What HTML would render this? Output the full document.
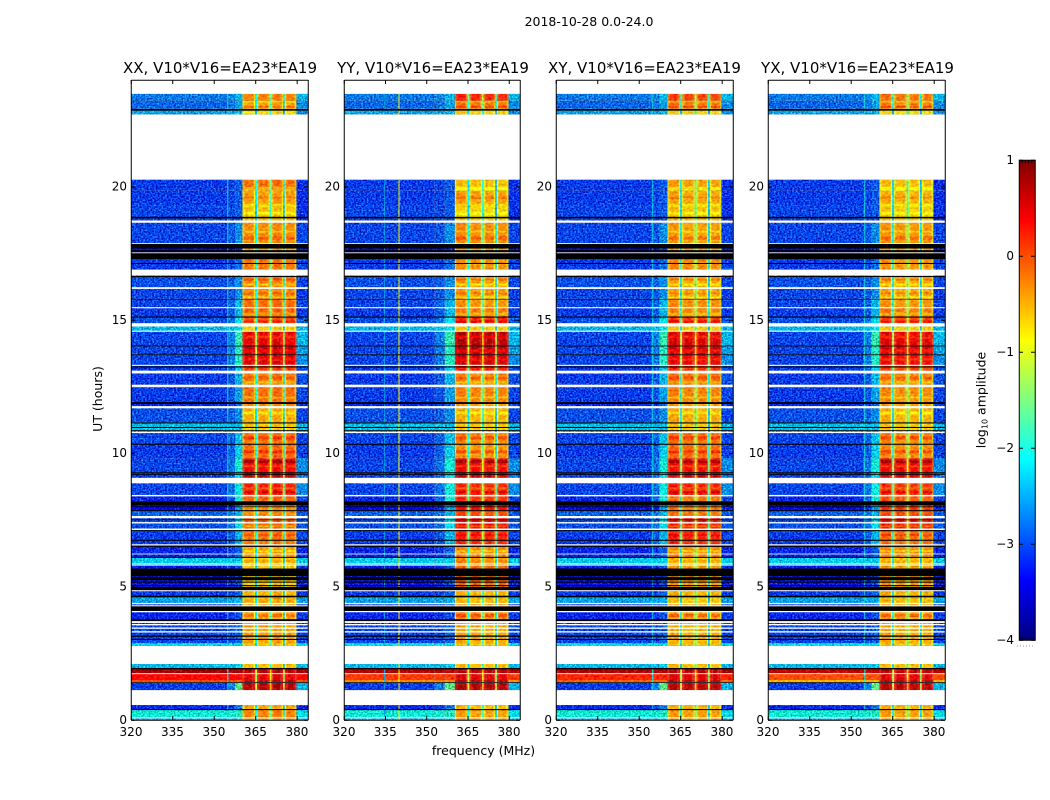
<!DOCTYPE html>
<html lang="en">
<head>
<meta charset="utf-8">
<title>2018-10-28 0.0-24.0 dynamic spectra</title>
<style>
html,body{margin:0;padding:0;background:#fff;}
svg{display:block;font-family:"DejaVu Sans","Liberation Sans",sans-serif;fill:#000;}
text{font-size:12px;}
.title{font-size:15px;text-anchor:middle;}
.big{font-size:12.5px;}
</style>
</head>
<body>
<svg id="figure" xmlns="http://www.w3.org/2000/svg" width="1050" height="800" viewBox="0 0 1050 800">
  <defs>
    <filter id="speckle" x="0" y="0" width="1050" height="800" filterUnits="userSpaceOnUse" color-interpolation-filters="sRGB">
      <feTurbulence type="fractalNoise" baseFrequency="0.55 0.6" numOctaves="2" seed="4" result="n"/>
      <feColorMatrix in="n" type="matrix" values="1 0 0 0 0 1 0 0 0 0 1 0 0 0 0 0 0 0 0 1" result="g"/>
      <feComposite in="SourceGraphic" in2="g" operator="arithmetic" k1="0" k2="1" k3="1.1" k4="-0.62" result="m"/>
      <feComposite in="m" in2="SourceGraphic" operator="in"/>
    </filter>
    <filter id="grain" x="0" y="0" width="1050" height="800" filterUnits="userSpaceOnUse" color-interpolation-filters="sRGB">
      <feTurbulence type="fractalNoise" baseFrequency="0.35 0.5" numOctaves="1" seed="9" result="n"/>
      <feColorMatrix in="n" type="matrix" values="1 0 0 0 0 1 0 0 0 0 1 0 0 0 0 0 0 0 0 1" result="g"/>
      <feComposite in="SourceGraphic" in2="g" operator="arithmetic" k1="0" k2="1" k3="0.5" k4="-0.25" result="m"/>
      <feComposite in="m" in2="SourceGraphic" operator="in"/>
    </filter>
  </defs>
  <rect x="0" y="0" width="1050" height="800" fill="#fff"/>
  <text class="big" x="589" y="26" text-anchor="middle">2018-10-28 0.0-24.0</text>

  <text class="title" x="220" y="73">XX, V10*V16=EA23*EA19</text>
  <text class="title" x="433" y="73">YY, V10*V16=EA23*EA19</text>
  <text class="title" x="644.5" y="73">XY, V10*V16=EA23*EA19</text>
  <text class="title" x="857.5" y="73">YX, V10*V16=EA23*EA19</text>

  <g id="panel-0"></g>
  <g id="panel-1"></g>
  <g id="panel-2"></g>
  <g id="panel-3"></g>

  <text class="big" transform="translate(102 399) rotate(-90)" text-anchor="middle">UT (hours)</text>
  <text class="big" x="483.5" y="755" text-anchor="middle">frequency (MHz)</text>

  <g id="colorbar"></g>
  <text class="big" transform="translate(985.5 400) rotate(-90)" text-anchor="middle">log<tspan font-size="8" dy="2">10</tspan><tspan dy="-2"> amplitude</tspan></text>
</svg>

<script>
/* ---- axis data ---- */
const frequencyTicks = [320, 335, 350, 365, 380];
const utTicks = [0, 5, 10, 15, 20];
const colorbarTicks = [1, 0, -1, -2, -3, -4];
const colorbarTickLabels = ['1', '0', '\u22121', '\u22122', '\u22123', '\u22124'];

/* ---- passbands (MHz) ---- */
const bandLow = [360.3, 365.6, 370.8, 375.6];
const bandHigh = [364.9, 370.2, 375.0, 379.8];
const slitDrop = [-1.8, -1.3, -1.9];
const xxBandOffset = [-0.1, -0.1, -0.05, -0.1];
const yyBandOffset = [-0.05, -0.1, -0.1, -0.1];
const xyBandOffset = [-0.05, -0.1, -0.1, -0.1];
const yxBandOffset = [-0.05, -0.1, -0.1, -0.1];
const shoulderStart = [355, 353, 354.5, 354.5];
const xxLineFreq = [355];
const yyLineFreq = [340, 334.8];
const xyLineFreq = [355];
const yxLineFreq = [355];
const xxLineLevel = [-2.1];
const yyLineLevel = [-0.9, -2.5];
const xyLineLevel = [-2.1];
const yxLineLevel = [-2.0];

/* ---- time blocks: UT hours and log10 amplitude levels ---- */
const blockStart = [23.48,23.22,22.92,20.26,19.85,19.29,18.65,17.87,17.28,16.67,16.17,15.81,15.47,15.13,14.76,14.57,14.04,13.71,13.30,13.00,12.51,11.87,11.69,11.16,10.79,10.34,9.81,9.29,8.88,8.39,8.20,7.83,7.57,7.08,6.55,6.10,5.81,4.83,4.64,4.34,3.78,2.88,2.10,1.95,1.75,1.50,1.39,0.56,0.41,0.10];
const blockEnd = [23.22,22.92,22.71,19.85,19.29,18.73,17.87,17.28,16.74,16.22,15.81,15.47,15.13,14.87,14.57,14.04,13.71,13.30,13.07,12.57,11.87,11.69,11.16,10.79,10.34,9.81,9.29,9.08,8.43,8.20,7.83,7.64,7.08,6.55,6.10,5.81,4.83,4.64,4.34,3.78,2.88,2.78,1.95,1.75,1.50,1.42,1.12,0.41,0.10,0];
const backgroundLevel = [-2.7,-2.8,-2.5,-3,-3,-2.95,-2.95,-3.3,-3,-2.9,-2.95,-2.95,-3,-2.9,-2.4,-2.95,-2.95,-2.95,-3,-3,-3,-3.1,-2.9,-2.35,-2.95,-3,-2.95,-3,-2.95,-3.1,-3.3,-2.8,-2.9,-3,-3.1,-2.3,-3.2,-3,-2.5,-3.1,-2.95,-2.2,-2.4,0.8,0.3,-0.1,-3,-3.1,-2,-2.4];
const shoulderLevel = [-2.4,-2.5,-2.4,-2.85,-2.85,-2.85,-2.6,-3.1,-2.75,-2.6,-2.6,-2.4,-2.4,-2.2,-2.2,-1.8,-1.9,-1.9,-2.3,-2.4,-2.5,-2.8,-2.6,-2.35,-2.35,-2.3,-2.0,-2.2,-2.05,-2.0,-2.5,-2.4,-2.2,-2.4,-2.8,-2.3,-2.9,-2.8,-2.45,-2.9,-2.8,-2.2,-2.3,0.8,0.3,0.2,-1.6,-2.7,-1.9,-2.3];
const edgeLevel = [-2.4,-2.6,-2.6,-3.05,-3.05,-3.05,-2.95,-3.2,-2.95,-2.95,-3,-2.95,-3,-2.85,-2.4,-2.4,-2.5,-2.6,-2.9,-2.9,-2.95,-3,-2.95,-2.4,-2.95,-2.95,-2.6,-2.7,-2.6,-2.95,-3.1,-2.85,-2.85,-2.95,-3.1,-2.3,-3.1,-3,-2.5,-3,-2.95,-2.2,-2.4,0.8,0.3,-0.1,-2.4,-3.1,-2.2,-2.4];
const xxBandLevel = [-0.15,-0.3,-0.6,-0.05,-0.3,-0.45,-0.2,-0.3,-0.1,-0.15,-0.2,-0.05,0,0.1,-0.5,0.6,0.8,0.65,0.2,-0.15,-0.05,-0.2,-0.35,-0.5,-0.1,-0.05,0.5,0.85,0.35,0,-0.2,-0.2,0,-0.1,-0.3,-0.45,-0.5,-0.4,-0.35,-0.35,-0.3,-0.5,-0.45,0.85,0.6,0.8,0.85,-0.35,-0.15,-0.2];
const yyBandLevel = [0.3,-0.1,-0.55,-0.45,-0.3,-0.55,-0.2,-0.3,-0.25,-0.3,-0.3,-0.25,-0.1,0.3,-0.5,0.85,0.85,0.7,0.35,-0.2,-0.15,-0.3,-0.4,-0.5,-0.2,-0.25,0.5,0.8,0.3,0.25,0.45,0.1,0.45,0.3,-0.2,-0.25,0,-0.4,-0.45,-0.2,-0.35,-0.5,-0.45,0.85,0.6,0.8,0.85,-0.45,-0.3,-0.3];
const xyBandLevel = [0.15,-0.1,-0.55,-0.3,-0.35,-0.45,-0.3,-0.3,-0.2,-0.35,-0.35,-0.2,-0.15,0.2,-0.5,0.65,0.75,0.55,0.25,-0.1,-0.15,-0.3,-0.35,-0.5,-0.1,-0.05,0.45,0.7,0.35,-0.1,-0.1,-0.1,0.35,0.3,-0.2,-0.45,-0.25,-0.4,-0.5,-0.3,-0.4,-0.5,-0.45,0.85,0.6,0.8,0.8,-0.4,-0.3,-0.3];
const yxBandLevel = [-0.1,-0.15,-0.6,-0.45,-0.4,-0.5,-0.25,-0.3,-0.25,-0.35,-0.35,-0.25,-0.1,0.15,-0.5,0.6,0.7,0.5,0.15,-0.2,-0.2,-0.3,-0.4,-0.5,-0.2,-0.2,0.5,0.7,0.25,0.05,0.25,0.1,0.35,-0.05,-0.2,-0.45,-0.25,-0.4,-0.45,-0.3,-0.35,-0.5,-0.45,0.8,0.6,0.8,0.8,-0.4,-0.3,-0.3];

/* ---- flare rows: which blocks, and the broadband level in each polarisation ---- */
const flareBlocks = [43, 44, 45];
const xxFlareLevel = [0.85, 0.35, 0.0];
const yyFlareLevel = [0.75, 0.1, -0.3];
const xyFlareLevel = [0.8, 0.2, -0.1];
const yxFlareLevel = [0.7, 0.0, -0.5];

/* ---- horizontal stripes inside the passbands ---- */
const stripeStart = [23.22,23.03,20.0,19.63,19.36,19.06,18.35,18.13,16.55,16.37,16.03,15.88,15.28,14.98,14.42,13.90,13.56,12.88,12.70,12.13,11.57,10.64,10.11,9.74,9.55,8.73,8.58,7.30,6.97,6.37,5.99,3.97];
const stripeEnd = [23.15,22.96,19.85,19.55,19.25,18.95,18.28,18.01,16.48,16.29,15.96,15.81,15.17,14.91,14.31,13.78,13.48,12.77,12.62,12.06,11.46,10.52,10.0,9.63,9.48,8.65,8.50,7.23,6.89,6.29,5.92,3.86];
const stripeDelta = [-0.3,0.25,-0.35,0.2,-0.3,-0.3,-0.3,0.2,0.25,-0.35,0.2,-0.35,-0.3,0.3,-0.35,-0.35,-0.3,0.2,-0.3,-0.35,-0.3,0.3,0.3,0.4,-0.35,-0.3,0.3,-0.35,0.2,-0.3,0.1,0.25];

/* ---- flagged time ranges (UT hours) ---- */
const gapStart = [18.73,17.88,17.54,16.89,16.70,16.23,15.48,14.88,14.60,13.32,13.10,12.57,12.51,11.77,10.80,9.08,8.44,7.65,7.42,7.18,6.59,6.24,5.87,5.82,4.87,4.39,4.30,4.09,3.71,3.60,3.47,3.33,1.75,0.10];
const gapEnd = [18.65,17.85,17.50,16.73,16.67,16.17,15.44,14.76,14.56,13.28,13.00,12.54,12.48,11.69,10.76,8.88,8.39,7.57,7.37,7.12,6.54,6.21,5.84,5.79,4.83,4.34,4.26,4.04,3.64,3.55,3.42,3.28,1.72,0.06];
const blackStart = [22.91,18.87,17.85,17.62,17.50,17.14,16.65,15.79,15.13,14.04,13.71,13.26,11.92,11.16,10.99,10.87,10.36,9.29,9.22,8.20,8.01,7.87,7.52,7.12,6.76,6.54,6.12,5.68,5.36,5.19,5.06,4.99,4.66,4.26,3.78,3.17,3.04,1.95,1.42,0.41];
const blackEnd = [22.85,18.81,17.68,17.54,17.28,17.10,16.61,15.77,15.09,14.01,13.68,13.22,11.85,11.12,10.95,10.84,10.32,9.25,9.19,8.05,7.98,7.83,7.49,7.08,6.72,6.49,6.08,5.39,5.24,5.15,5.02,4.87,4.60,4.09,3.71,3.12,3.00,1.90,1.39,0.37];

/* ---- layout ---- */
const SVGNS = 'http://www.w3.org/2000/svg';
const panelLeft = [131, 344, 556, 768];
const panelWidth = [177, 176, 177, 177];
const plotTop = 80, plotBottom = 720;
const freqMin = 320, freqMax = 384, utMin = 0, utMax = 24;
const cbLeft = 1019, cbRight = 1035, cbTop = 160, cbBottom = 640, cbMin = -4, cbMax = 1;
const rimWidth = 0.45, outerRimDrop = 0.4, innerRimDrop = 0.15;

const bandLevels = [xxBandLevel, yyBandLevel, xyBandLevel, yxBandLevel];
const bandOffsets = [xxBandOffset, yyBandOffset, xyBandOffset, yxBandOffset];
const flareLevels = [xxFlareLevel, yyFlareLevel, xyFlareLevel, yxFlareLevel];
const lineFreqs = [xxLineFreq, yyLineFreq, xyLineFreq, yxLineFreq];
const lineLevels = [xxLineLevel, yyLineLevel, xyLineLevel, yxLineLevel];

function xScale(p, f) { return panelLeft[p] + (f - freqMin) / (freqMax - freqMin) * panelWidth[p]; }
function yScale(t) { return plotBottom - (t - utMin) / (utMax - utMin) * (plotBottom - plotTop); }
function cbScale(v) { return cbBottom - (v - cbMin) / (cbMax - cbMin) * (cbBottom - cbTop); }

function jetColor(level) {
  const v = Math.max(0, Math.min(1, (level - cbMin) / (cbMax - cbMin)));
  const ch = function (c) { return Math.round(255 * Math.max(0, Math.min(1, 1.5 - Math.abs(4 * v - c)))); };
  return 'rgb(' + ch(3) + ',' + ch(2) + ',' + ch(1) + ')';
}

function line(parent, x1, y1, x2, y2, name) {
  const el = document.createElementNS(SVGNS, 'line');
  el.setAttribute('x1', x1); el.setAttribute('y1', y1);
  el.setAttribute('x2', x2); el.setAttribute('y2', y2);
  el.setAttribute('stroke', '#000'); el.setAttribute('stroke-width', '1');
  
  
  parent.appendChild(el);
}
function label(parent, x, y, str, anchor, name) {
  const el = document.createElementNS(SVGNS, 'text');
  el.setAttribute('x', x); el.setAttribute('y', y);
  el.setAttribute('text-anchor', anchor);
  el.textContent = str;
  
  
  parent.appendChild(el);
}
function cell(parent, p, f0, f1, t0, t1, fill, name) {
  const el = document.createElementNS(SVGNS, 'rect');
  const x0 = xScale(p, f0), x1 = xScale(p, f1), y0 = yScale(t0), y1 = yScale(t1);
  el.setAttribute('x', x0.toFixed(2)); el.setAttribute('y', y0.toFixed(2));
  el.setAttribute('width', (x1 - x0).toFixed(2)); el.setAttribute('height', (y1 - y0).toFixed(2));
  el.setAttribute('fill', fill);
  
  
  parent.appendChild(el);
}

function drawPanel(p) {
  const root = document.getElementById('panel-' + p);
  const heat = document.createElementNS(SVGNS, 'g');
  heat.setAttribute('filter', 'url(#speckle)');
  
  
  root.appendChild(heat);
  const smooth = document.createElementNS(SVGNS, 'g');
  smooth.setAttribute('filter', 'url(#grain)');
  
  
  root.appendChild(smooth);

  for (let b = 0; b < blockStart.length; b++) {
    const t0 = blockStart[b], t1 = blockEnd[b];
    const s0 = shoulderStart[p], sMid = (s0 + bandLow[0]) / 2;
    const flareIndex = flareBlocks.indexOf(b);
    const flare = flareIndex >= 0;
    const bg = flare ? flareLevels[p][flareIndex] : backgroundLevel[b];
    const sh = flare ? flareLevels[p][flareIndex] : shoulderLevel[b];
    const edge = flare ? flareLevels[p][flareIndex] : edgeLevel[b];
    const lvl = bandLevels[p][b];
    const target = flare ? smooth : heat;
    cell(target, p, freqMin, s0, t0, t1, jetColor(bg), 'background-cell');
    cell(target, p, s0, sMid, t0, t1, jetColor(bg + 0.25 * (sh - bg)), 'shoulder-cell');
    cell(target, p, sMid, bandLow[0], t0, t1, jetColor(sh), 'shoulder-cell');
    for (let k = 0; k < bandLow.length; k++) {
      const v = lvl + bandOffsets[p][k];
      cell(smooth, p, bandLow[k], bandLow[k] + rimWidth, t0, t1, jetColor(v - outerRimDrop), 'band-rim-cell');
      cell(smooth, p, bandLow[k] + rimWidth, bandLow[k] + 2 * rimWidth, t0, t1, jetColor(v - innerRimDrop), 'band-rim-cell');
      cell(smooth, p, bandLow[k] + 2 * rimWidth, bandHigh[k] - 2 * rimWidth, t0, t1, jetColor(v), 'band-cell');
      cell(smooth, p, bandHigh[k] - 2 * rimWidth, bandHigh[k] - rimWidth, t0, t1, jetColor(v - innerRimDrop), 'band-rim-cell');
      cell(smooth, p, bandHigh[k] - rimWidth, bandHigh[k], t0, t1, jetColor(v - outerRimDrop), 'band-rim-cell');
      if (k < slitDrop.length) {
        cell(smooth, p, bandHigh[k], bandLow[k + 1], t0, t1, jetColor(v + slitDrop[k]), 'band-slit-cell');
      }
    }
    cell(target, p, bandHigh[3], freqMax, t0, t1, jetColor(edge), 'upper-edge-cell');
    for (let n = 0; n < lineFreqs[p].length; n++) {
      cell(smooth, p, lineFreqs[p][n] - 0.2, lineFreqs[p][n] + 0.2, t0, t1, jetColor(lineLevels[p][n]), 'rfi-line-cell');
    }
  }

  for (let s = 0; s < stripeStart.length; s++) {
    const mid = (stripeStart[s] + stripeEnd[s]) / 2;
    let blockIndex = -1;
    for (let b = 0; b < blockStart.length; b++) {
      if (mid <= blockStart[b] && mid >= blockEnd[b]) { blockIndex = b; }
    }
    if (blockIndex < 0) { continue; }
    for (let k = 0; k < bandLow.length; k++) {
      const v = bandLevels[p][blockIndex] + bandOffsets[p][k] + stripeDelta[s];
      cell(smooth, p, bandLow[k] + rimWidth, bandHigh[k] - rimWidth, stripeStart[s], stripeEnd[s], jetColor(v), 'band-stripe-cell');
    }
  }

  for (let i = 0; i < gapStart.length; i++) {
    cell(root, p, freqMin, freqMax, gapStart[i], gapEnd[i], '#fff', 'flagged-gap');
  }
  for (let i = 0; i < blackStart.length; i++) {
    cell(root, p, freqMin, freqMax, blackStart[i], blackEnd[i], '#000', 'flagged-black-line');
  }

  /* frame */
  const L = panelLeft[p] + 0.25, R = panelLeft[p] + panelWidth[p] + 0.25;
  line(root, L, plotTop, L, plotBottom, 'left-spine');
  line(root, R, plotTop, R, plotBottom, 'right-spine');
  line(root, L, plotTop + 0.25, R, plotTop + 0.25, 'top-spine');
  line(root, L, plotBottom + 0.25, R, plotBottom + 0.25, 'bottom-spine');

  /* ticks */
  frequencyTicks.forEach(function (f) {
    const x = xScale(p, f) + 0.25;
    line(root, x, plotTop, x, plotTop + 4, 'x-tick-top');
    line(root, x, plotBottom, x, plotBottom - 4, 'x-tick-bottom');
    label(root, x - 0.25, plotBottom + 16, String(f), 'middle', 'x-tick-label');
  });
  utTicks.forEach(function (t) {
    const y = yScale(t) + 0.25;
    line(root, panelLeft[p], y, panelLeft[p] + 4, y, 'y-tick-left');
    line(root, panelLeft[p] + panelWidth[p], y, panelLeft[p] + panelWidth[p] - 4, y, 'y-tick-right');
    label(root, panelLeft[p] - 4, y + 3.5, String(t), 'end', 'y-tick-label');
  });
}

function drawColorbar() {
  const root = document.getElementById('colorbar');
  for (let py = cbTop; py < cbBottom; py += 2) {
    const v = cbMax - (py + 1 - cbTop) / (cbBottom - cbTop) * (cbMax - cbMin);
    const el = document.createElementNS(SVGNS, 'rect');
    el.setAttribute('x', cbLeft); el.setAttribute('y', py);
    el.setAttribute('width', cbRight - cbLeft); el.setAttribute('height', 2.2);
    el.setAttribute('fill', jetColor(v));
    
    
    root.appendChild(el);
  }
  const outline = document.createElementNS(SVGNS, 'rect');
  outline.setAttribute('x', cbLeft + 0.25); outline.setAttribute('y', cbTop + 0.25);
  outline.setAttribute('width', cbRight - cbLeft); outline.setAttribute('height', cbBottom - cbTop);
  outline.setAttribute('fill', 'none'); outline.setAttribute('stroke', '#000');
  
  
  root.appendChild(outline);
  colorbarTicks.forEach(function (v, i) {
    const y = cbScale(v) + 0.25;
    line(root, cbLeft, y, cbLeft + 4, y, 'colorbar-tick-left');
    line(root, cbRight, y, cbRight - 4, y, 'colorbar-tick-right');
    label(root, cbLeft - 5, y + 3.5, colorbarTickLabels[i], 'end', 'colorbar-tick-label');
  });
  for (let m = 1; m < 5; m++) {
    const x = cbLeft + m * (cbRight - cbLeft) / 5;
    line(root, x, cbTop, x, cbTop + 3, 'colorbar-minor-tick-top');
    line(root, x, cbBottom, x, cbBottom - 3, 'colorbar-minor-tick-bottom');
  }
  const dots = document.createElementNS(SVGNS, 'line');
  dots.setAttribute('x1', cbLeft - 2); dots.setAttribute('y1', 646);
  dots.setAttribute('x2', cbRight); dots.setAttribute('y2', 646);
  dots.setAttribute('stroke', '#999'); dots.setAttribute('stroke-dasharray', '1 2');
  
  
  root.appendChild(dots);
}

for (let p = 0; p < panelLeft.length; p++) { drawPanel(p); }
drawColorbar();
</script>
</body>
</html>
